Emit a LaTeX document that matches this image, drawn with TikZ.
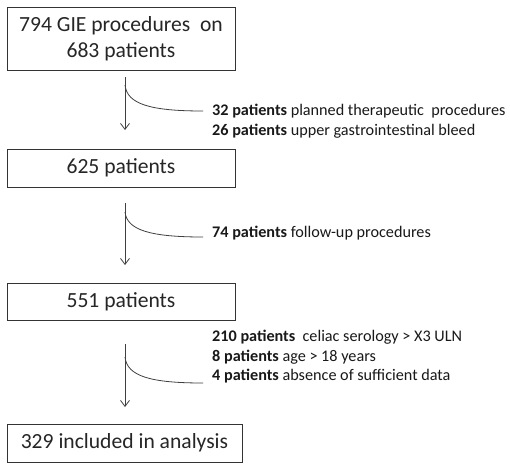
\documentclass[tikz,border=0pt]{standalone}
\usepackage{fontspec}
\setmainfont{Carlito}
\usetikzlibrary{arrows.meta}
\tikzset{
  stagebox/.style={draw=black!80,line width=0.8pt,inner sep=0pt,align=center,
    font=\fontsize{21.6}{26}\selectfont,text=black!85},
  exclnote/.style={anchor=north west,inner sep=0pt,align=left,
    font=\fontsize{16.2}{19.6}\selectfont,text=black!90},
  flowarrow/.style={-{Straight Barb[length=6pt,width=9pt]},draw=black!75,line width=0.8pt},
  branch/.style={draw=black!75,line width=0.8pt}
}
\begin{document}
\begin{tikzpicture}[x=1pt,y=-1pt]
	\useasboundingbox[fill=white] (0,0) rectangle (510,469);
	% stages
	\node[stagebox,minimum width=228pt,minimum height=63pt] (start) at (121,38.5) {794 GIE procedures\ \ on\\683 patients};
	\node[stagebox,minimum width=228pt,minimum height=38pt] (second) at (121,168) {625 patients};
	\node[stagebox,minimum width=228pt,minimum height=37pt] (third) at (121,301.5) {551 patients};
	\node[stagebox,minimum width=235pt,minimum height=38pt] (final) at (124.5,443) {329 included in analysis};
	% exclusions
	\node[exclnote] (exA) at (212,104) {\textbf{32 patients} planned therapeutic\ \ procedures\\\textbf{26 patients} upper gastrointestinal bleed};
	\node[exclnote] (exB) at (212,226) {\textbf{74 patients} follow-up procedures};
	\node[exclnote] (exC) at (212,330) {\textbf{210 patients}\ \ celiac serology > X3 ULN\\\textbf{8 patients} age > 18 years\\\textbf{4 patients} absence of sufficient data};
	% arrows
	\coordinate (a1) at (125,77);  \coordinate (b1) at (125,130);
	\coordinate (a2) at (125,203); \coordinate (b2) at (125,265);
	\coordinate (a3) at (125,344); \coordinate (b3) at (125,407);
	\draw[flowarrow] (a1) -- (b1);
	\draw[flowarrow] (a2) -- (b2);
	\draw[flowarrow] (a3) -- (b3);
	% side branches
	\coordinate (c1) at (125,85);  \coordinate (d1) at (203,111);
	\coordinate (c2) at (125,212); \coordinate (d2) at (203,237);
	\coordinate (c3) at (125,357); \coordinate (d3) at (203,383);
	\draw[branch] (c1) .. controls (127,104) and (150,111) .. (d1);
	\draw[branch] (c2) .. controls (127,230) and (150,237) .. (d2);
	\draw[branch] (c3) .. controls (127,376) and (150,383) .. (d3);
\end{tikzpicture}
\end{document}
